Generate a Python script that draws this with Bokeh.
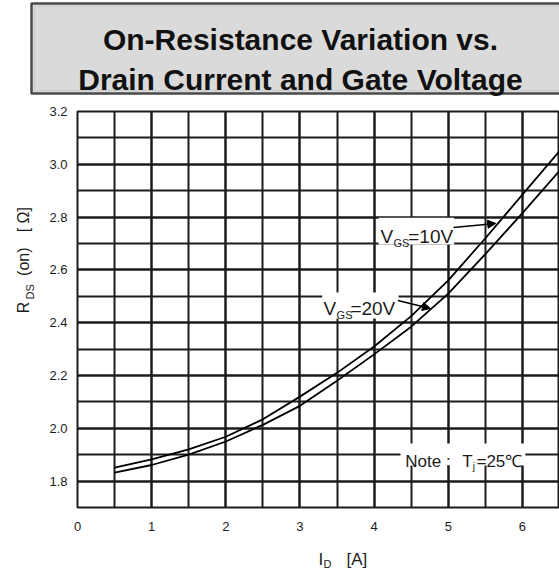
from bokeh.plotting import figure
from bokeh.layouts import column, row
from bokeh.models import (Range1d, FixedTicker, PrintfTickFormatter, Label,
                          BoxAnnotation, Arrow, NormalHead)
from bokeh.embed import file_html
from bokeh.resources import INLINE
import math

# ---- data ----
drain_current = [0.5, 1.0, 1.5, 2.0, 2.5, 3.0, 3.5, 4.0, 4.5, 5.0, 5.5, 6.0, 6.5]
rds_vgs10 = [1.851, 1.882, 1.920, 1.968, 2.034, 2.120, 2.210, 2.310, 2.425, 2.560, 2.720, 2.885, 3.050]
rds_vgs20 = [1.832, 1.861, 1.900, 1.950, 2.013, 2.085, 2.180, 2.280, 2.385, 2.510, 2.660, 2.815, 2.975]
x_ticks = [0, 1, 2, 3, 4, 5, 6]
x_minor = [0, 0.5, 1, 1.5, 2, 2.5, 3, 3.5, 4, 4.5, 5, 5.5, 6, 6.5]
y_ticks = [1.8, 2.0, 2.2, 2.4, 2.6, 2.8, 3.0, 3.2]
y_minor = [1.7, 1.8, 1.9, 2.0, 2.1, 2.2, 2.3, 2.4, 2.5, 2.6, 2.7, 2.8, 2.9, 3.0, 3.1, 3.2]
title_lines = ["On-Resistance Variation vs.", "Drain Current and Gate Voltage"]

FONT = "Liberation Sans"
INK = "#1c1c1c"


def blank(w, h):
    f = figure(width=w, height=h, output_backend="svg", toolbar_location=None,
               x_range=Range1d(0, w), y_range=Range1d(0, h),
               x_axis_type=None, y_axis_type=None, min_border=0,
               background_fill_color="white", border_fill_color="white")
    f.outline_line_color = None
    f.grid.visible = False
    return f


def put(f, x, y, text, size, angle=0.0, bold=False, align="left", color=INK):
    f.add_layout(Label(x=x, y=y, text=text, text_font=FONT, text_font_size=size,
                       text_font_style="bold" if bold else "normal",
                       text_color=color, text_align=align,
                       text_baseline="alphabetic", angle=angle))


# ---- title panel (559 x 100) ----
TW, TH = 559, 100
tf = blank(TW, TH)
tf.add_layout(BoxAnnotation(left=31, right=TW + 4, top=TH - 3, bottom=TH - 93,
                            fill_color="#dadada", fill_alpha=1,
                            line_color="#4a4a4a", line_width=2.5, line_alpha=1))
tf.add_layout(BoxAnnotation(left=34, right=TW + 4, top=TH - 6, bottom=TH - 90,
                            fill_alpha=0, line_color="#a8a8a8", line_width=1))
for i, t in enumerate(title_lines):
    put(tf, 300, TH - (39 + 40 * i), t, "30px", bold=True, align="center", color="#111111")

# ---- main chart (523 x 436) ----
MW, MH = 523, 436
p = figure(width=MW, height=MH, output_backend="svg", toolbar_location=None,
           x_range=Range1d(0, 6.5), y_range=Range1d(1.7, 3.2),
           min_border_left=41, min_border_right=0, min_border_top=11,
           min_border_bottom=29, background_fill_color="white",
           border_fill_color="white")
p.outline_line_color = INK
p.outline_line_width = 2

p.xaxis.ticker = FixedTicker(ticks=x_ticks, minor_ticks=x_minor)
p.yaxis.ticker = FixedTicker(ticks=y_ticks, minor_ticks=y_minor)
p.xaxis.formatter = PrintfTickFormatter(format="%d")
p.yaxis.formatter = PrintfTickFormatter(format="%.1f")
for ax in (p.xaxis, p.yaxis):
    ax.axis_line_color = None
    ax.major_tick_line_color = None
    ax.minor_tick_line_color = None
    ax.major_label_text_font = FONT
    ax.major_label_text_font_size = "13px"
    ax.major_label_text_color = INK
p.xaxis.major_label_standoff = 8
p.yaxis.major_label_standoff = 4

for g in (p.xgrid, p.ygrid):
    g.grid_line_color = INK
    g.grid_line_width = 2
    g.grid_line_alpha = 1
    g.minor_grid_line_color = INK
    g.minor_grid_line_width = 2

p.line(drain_current, rds_vgs10, line_color="black", line_width=1.8)
p.line(drain_current, rds_vgs20, line_color="black", line_width=1.8)

# white label boxes over the grid
for (l, rr, t, b) in [(4.06, 5.08, 2.798, 2.696), (3.30, 4.33, 2.514, 2.416),
                       (4.356, 6.04, 1.942, 1.859)]:
    p.add_layout(BoxAnnotation(left=l, right=rr, top=t, bottom=b, fill_color="white",
                               fill_alpha=1, line_alpha=0, level="underlay"))

put(p, 4.086, 2.727, "V", "19px")
put(p, 4.262, 2.703, "GS", "11px")
put(p, 4.46, 2.727, "=10V", "19px")
put(p, 3.318, 2.454, "V", "19px")
put(p, 3.494, 2.430, "GS", "11px")
put(p, 3.68, 2.454, "=20V", "19px")
put(p, 4.42, 1.874, "Note :", "17px")
put(p, 5.19, 1.874, "T", "17px")
put(p, 5.33, 1.855, "j", "10px")
put(p, 5.38, 1.874, "=25℃", "17px")

p.add_layout(Arrow(x_start=5.07, y_start=2.761, x_end=5.64, y_end=2.776,
                   line_color="black", line_width=1.5,
                   end=NormalHead(size=8, fill_color="black", line_color="black")))
p.add_layout(Arrow(x_start=4.32, y_start=2.484, x_end=4.76, y_end=2.454,
                   line_color="black", line_width=1.5,
                   end=NormalHead(size=8, fill_color="black", line_color="black")))

# ---- y-axis label panel (36 x 436), page y = 536 - data y ----
YW = 36
yf = blank(YW, MH)
r = math.pi / 2
put(yf, 23, 536 - 322, "R", "16px", r)
put(yf, 29, 536 - 307, "DS", "11px", r)
put(yf, 23, 536 - 281, "(on)", "16px", r)
put(yf, 23, 536 - 233, "[  Ω]", "16px", r)

# ---- x-axis label panel (559 x 32), page y = 568 - data y ----
XH = 32
xf = blank(TW, XH)
put(xf, 318, 568 - 559, "I", "17px")
put(xf, 323, 568 - 563, "D", "11px")
put(xf, 346, 568 - 559, "[A]", "17px")

layout = column(tf, row(yf, p), xf)
open("out.html", "w").write(file_html(layout, INLINE))
